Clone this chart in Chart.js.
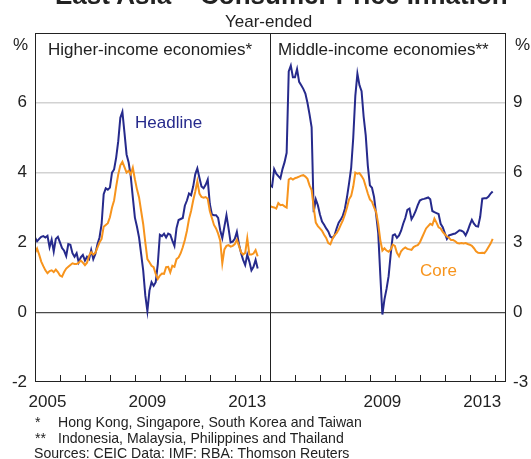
<!DOCTYPE html>
<html>
<head>
<meta charset="utf-8">
<script src="https://cdn.jsdelivr.net/npm/chart.js@4.4.0/dist/chart.umd.min.js"></script>
<style>
  body { margin:0; background:#fff; width:531px; height:459px; overflow:hidden; position:relative;
         font-family:"Liberation Sans", Arial, sans-serif; color:#222; }
  canvas { position:absolute; top:0; }
  .t { position:absolute; white-space:nowrap; line-height:1; font-size:17px; }
  .f { font-size:14.1px; }
</style>
</head>
<body>
<canvas id="left" width="271" height="420" style="left:0"></canvas>
<canvas id="right" width="261" height="420" style="left:270px"></canvas>

<div class="t" style="left:55px;top:-18px;font-size:26px;font-weight:bold">East Asia – Consumer Price Inflation</div>
<div class="t" style="left:225px;top:13px">Year-ended</div>
<div class="t" style="left:48px;top:41px">Higher-income economies*</div>
<div class="t" style="left:278px;top:41px">Middle-income economies**</div>
<div class="t" style="left:13px;top:36px">%</div>
<div class="t" style="left:515px;top:36px">%</div>
<div class="t" style="left:135px;top:114px;color:#262a8c">Headline</div>
<div class="t" style="left:420px;top:262px;color:#f7941d">Core</div>
<div class="t f" style="left:35px;top:415px">*</div>
<div class="t f" style="left:58px;top:415px">Hong Kong, Singapore, South Korea and Taiwan</div>
<div class="t f" style="left:35px;top:431px">**</div>
<div class="t f" style="left:58px;top:431px">Indonesia, Malaysia, Philippines and Thailand</div>
<div class="t f" style="left:34px;top:446px">Sources: CEIC Data: IMF: RBA: Thomson Reuters</div>

<script>
// monthly, Jan 2005 - Dec 2013, year-ended % change
var startYear = 2005;

var headlineHigh = [2.14, 2.03, 2.10, 2.16, 2.18, 2.14, 2.19, 1.86, 2.08, 1.74, 2.10, 2.16,
  2.00, 1.84, 1.76, 1.61, 1.95, 1.93, 1.69, 1.59, 1.69, 1.43, 1.57, 1.64,
  1.48, 1.59, 1.52, 1.78, 1.52, 1.67, 1.95, 2.14, 2.52, 3.38, 3.55, 3.51,
  3.57, 4.00, 4.09, 4.43, 4.90, 5.57, 5.74, 5.14, 4.52, 4.29, 3.90, 3.29,
  2.71, 2.45, 2.14, 1.67, 1.19, 0.48, 0.03, 0.62, 0.86, 0.76, 0.86, 1.38,
  2.22, 2.18, 2.25, 2.14, 2.25, 2.22, 2.05, 1.90, 2.41, 2.64, 2.67, 2.70,
  3.05, 3.20, 3.40, 3.35, 3.60, 3.95, 4.12, 3.85, 3.60, 3.55, 3.65, 3.80,
  3.10, 2.80, 2.78, 2.78, 2.70, 2.35, 2.12, 2.45, 2.78, 2.40, 2.00, 2.02,
  2.10, 2.30, 1.95, 1.70, 1.50, 1.35, 1.65, 1.45, 1.20, 1.30, 1.50, 1.25];

var coreHigh = [1.70, 1.82, 1.65, 1.45, 1.32, 1.20, 1.12, 1.18, 1.20, 1.15, 1.22, 1.15,
  1.05, 1.02, 1.15, 1.25, 1.30, 1.35, 1.40, 1.38, 1.38, 1.42, 1.48, 1.42,
  1.35, 1.42, 1.62, 1.72, 1.65, 1.70, 1.85, 2.00, 2.10, 2.45, 2.50, 2.55,
  2.72, 3.00, 3.20, 3.60, 3.95, 4.21, 4.31, 4.16, 4.00, 4.05, 3.95, 4.14,
  3.81, 3.52, 3.29, 2.90, 2.52, 2.00, 1.52, 1.43, 1.33, 1.29, 1.10, 0.95,
  1.05, 1.11, 1.10, 1.29, 1.30, 1.14, 1.33, 1.30, 1.52, 1.57, 1.69, 1.86,
  2.07, 2.33, 2.67, 2.90, 3.20, 3.45, 3.75, 3.40, 3.30, 3.28, 3.30, 3.25,
  2.90, 2.70, 2.50, 2.40, 2.25, 2.05, 1.40, 1.80, 1.90, 1.92, 1.88, 1.90,
  1.95, 2.08, 1.90, 1.72, 1.65, 1.70, 2.12, 1.65, 1.65, 1.68, 1.78, 1.60];

var headlineMid = [5.47, 5.40, 6.15, 5.95, 5.85, 5.75, 6.15, 6.45, 6.85, 10.35, 10.60, 10.10,
  10.10, 10.45, 9.90, 9.75, 9.60, 9.40, 9.00, 8.50, 7.95, 4.30, 4.85, 4.60,
  4.20, 3.90, 3.76, 3.60, 3.47, 3.25, 3.19, 3.30, 3.60, 3.85, 3.98, 4.15,
  4.45, 4.95, 5.55, 6.20, 7.50, 9.30, 10.25, 9.75, 9.50, 8.40, 7.60, 6.30,
  5.45, 5.35, 4.95, 4.20, 3.40, 1.60, -0.10, 0.55, 1.00, 1.55, 2.50, 3.30,
  3.35, 3.20, 3.30, 3.50, 3.80, 4.05, 4.40, 4.45, 4.00, 4.15, 4.35, 4.60,
  4.80, 4.85, 4.87, 4.90, 4.93, 4.85, 4.35, 4.30, 4.26, 4.22, 3.80, 3.65,
  3.40, 3.15, 3.30, 3.33, 3.36, 3.38, 3.45, 3.52, 3.50, 3.45, 3.30, 3.50,
  3.75, 3.97, 3.80, 3.70, 3.68, 4.10, 4.88, 4.90, 4.90, 4.97, 5.10, 5.19];

var coreMid = [4.57, 4.52, 4.50, 4.45, 4.69, 4.60, 4.62, 4.55, 4.50, 5.70, 5.76, 5.70,
  5.76, 5.79, 5.83, 5.87, 5.89, 5.83, 5.73, 5.45, 5.25, 4.50, 3.85, 3.70,
  3.60, 3.50, 3.33, 3.19, 2.97, 2.92, 3.15, 3.30, 3.40, 3.55, 3.75, 3.95,
  4.20, 4.50, 4.85, 5.00, 5.40, 6.00, 5.95, 5.98, 5.85, 5.70, 5.40, 5.10,
  4.85, 4.75, 4.50, 4.30, 3.80, 3.10, 2.65, 2.75, 2.65, 2.60, 2.70, 2.90,
  2.85, 2.55, 2.40, 2.62, 2.72, 2.78, 2.72, 2.70, 2.68, 2.80, 2.85, 2.88,
  3.00, 3.20, 3.40, 3.60, 3.70, 3.80, 3.75, 4.02, 3.85, 3.65, 3.60, 3.45,
  3.35, 3.25, 3.20, 3.10, 3.10, 3.05, 2.97, 2.95, 2.97, 2.95, 2.97, 2.93,
  2.90, 2.85, 2.75, 2.62, 2.55, 2.54, 2.55, 2.54, 2.65, 2.80, 2.95, 3.15];

var leftTicks = [-2, 0, 2, 4, 6, 8];
var rightTicks = [-3, 0, 3, 6, 9, 12];
var leftYears = [2005, 2009, 2013];
var rightYears = [2009, 2013];

var navy = '#262a8c';
var orange = '#f7941d';

function toPoints(arr) {
  return arr.map(function (v, i) { return { x: startYear + i / 12, y: v }; });
}

// frame round the panel and year ticks pointing up from the bottom
var framePlugin = {
  id: 'frame',
  afterDatasetsDraw: function (chart) {
    var ctx = chart.ctx, a = chart.chartArea, x = chart.scales.x;
    ctx.save();
    ctx.strokeStyle = '#222';
    ctx.lineWidth = 1;
    ctx.strokeRect(a.left + 0.5, a.top + 0.5, a.right - a.left - 1, a.bottom - a.top - 1);
    ctx.beginPath();
    for (var yr = 2006; yr <= 2014; yr++) {
      var px = Math.round(x.getPixelForValue(yr)) + 0.5;
      ctx.moveTo(px, a.bottom);
      ctx.lineTo(px, a.bottom - 7);
    }
    ctx.stroke();
    ctx.restore();
  }
};

function makeChart(id, headline, core, yTicks, side, years) {
  var yMin = yTicks[0], yMax = yTicks[yTicks.length - 1];
  return new Chart(document.getElementById(id), {
    type: 'line',
    data: {
      datasets: [
        { label: 'Core', data: toPoints(core), borderColor: orange, borderWidth: 2, pointRadius: 0, tension: 0 },
        { label: 'Headline', data: toPoints(headline), borderColor: navy, borderWidth: 2, pointRadius: 0, tension: 0 }
      ]
    },
    options: {
      responsive: false,
      animation: false,
      layout: { padding: { top: 33, left: 0, right: 0, bottom: 0 } },
      plugins: { legend: { display: false }, tooltip: { enabled: false } },
      scales: {
        x: {
          type: 'linear', min: 2005, max: 2014.45,
          grid: { display: false, drawTicks: false },
          border: { display: false },
          afterBuildTicks: function (s) { s.ticks = years.map(function (y) { return { value: y + 0.5 }; }); },
          afterFit: function (s) { s.height = 38; s.paddingLeft = 0; s.paddingRight = 0; },
          ticks: {
            autoSkip: false, maxRotation: 0, padding: 10, color: '#222',
            font: { size: 17, family: '"Liberation Sans", Arial, sans-serif' },
            callback: function (v) { return String(Math.floor(v)); }
          }
        },
        y: {
          position: side, min: yMin, max: yMax,
          afterBuildTicks: function (s) { s.ticks = yTicks.map(function (v) { return { value: v }; }); },
          afterFit: function (s) { s.width = side === 'left' ? 35 : 25; s.paddingTop = 0; s.paddingBottom = 0; },
          border: { display: false },
          grid: {
            drawTicks: false,
            color: function (c) {
              var v = c.tick.value;
              if (v === 0) return '#4a4a4a';
              if (v === yMin || v === yMax) return 'rgba(0,0,0,0)';
              return '#d2d2d2';
            },
            lineWidth: function (c) { return c.tick.value === 0 ? 1.2 : 1.6; }
          },
          ticks: {
            padding: side === 'left' ? 8 : 7, color: '#222',
            font: { size: 17, family: '"Liberation Sans", Arial, sans-serif' },
            callback: function (v) { return v === yMax ? '' : String(v); }
          }
        }
      }
    },
    plugins: [framePlugin]
  });
}

makeChart('left', headlineHigh, coreHigh, leftTicks, 'left', leftYears);
makeChart('right', headlineMid, coreMid, rightTicks, 'right', rightYears);
</script>
</body>
</html>
